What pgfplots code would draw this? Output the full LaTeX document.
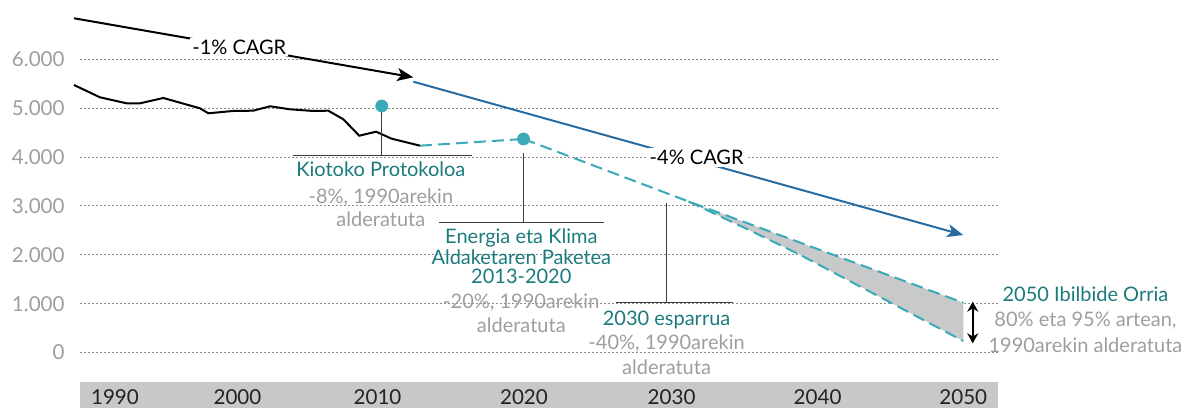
\documentclass[border=0pt]{standalone}
\usepackage{pgfplots}
\pgfplotsset{compat=1.18}
\usepackage{fontspec}
\setmainfont{Lato}
\usetikzlibrary{arrows.meta}
\definecolor{tealtxt}{RGB}{27,122,124}
\definecolor{tealln}{RGB}{58,170,185}
\definecolor{bluecagr}{RGB}{38,108,163}
\definecolor{graytxt}{RGB}{158,158,158}
\definecolor{bandgray}{RGB}{199,200,201}
\definecolor{fillgray}{RGB}{200,201,202}
\definecolor{gridgray}{RGB}{140,140,140}
\definecolor{stemcol}{RGB}{60,60,60}
\definecolor{yearcol}{RGB}{34,34,34}
\newcommand{\lf}{\fontsize{10}{12}\selectfont}
\newcommand{\yf}{\fontsize{10.3}{12}\selectfont}
\begin{document}
\begin{tikzpicture}
\begin{axis}[
  at={(40pt,0pt)}, anchor=south west,
  scale only axis, width=459pt, height=204pt,
  xmin=1989.623, xmax=2052.5, ymin=-1136, ymax=7213,
  clip=false,
  axis line style={draw=none},
  major tick style={draw=none},
  xtick=\empty,
  ytick={0,1000,2000,3000,4000,5000,6000},
  ymajorgrids,
  grid style={gridgray, line width=0.5pt, dash pattern=on 1pt off 1pt},
  yticklabel style={font=\fontsize{10.3}{12}\selectfont, text=graytxt, anchor=east, inner sep=0pt, xshift=-7.5pt},
  /pgf/number format/1000 sep={.},
  /pgf/number format/assume math mode=true,
  every node/.append style={font=\lf},
]
% year band
\fill[bandgray] (axis cs:1989.623,-1136) rectangle (axis cs:2052.5,-597);

% historical emissions
\addplot[black, line width=1pt] coordinates {
(1989.21,5474) (1990.99,5222) (1992.82,5099) (1993.73,5099) (1995.33,5208)
(1997.84,4997) (1998.41,4895) (2000.12,4942) (2001.49,4948) (2002.64,5038)
(2004.01,4976) (2005.60,4942) (2006.63,4948) (2007.66,4772) (2008.75,4436)
(2009.90,4518) (2010.97,4375) (2012.91,4232)};

% 2050 corridor fill
\addplot[fill=fillgray, draw=none] coordinates {
(2031.3,3090) (2050.12,1019) (2050.12,235) (2039,1990) (2035.5,2500)} -- cycle;

% dashed targets path
\addplot[tealln, line width=1pt, dash pattern=on 6pt off 3pt] coordinates {(2012.91,4232) (2020,4369)};
\addplot[tealln, line width=1pt, dash pattern=on 6pt off 3pt] coordinates {(2020,4369) (2031.3,3090) (2050.12,1019)};
\addplot[tealln, line width=1pt, dash pattern=on 6pt off 3pt] coordinates {(2031.3,3090) (2035.5,2500) (2039,1990) (2050.12,235)};

% annotation stems
\addplot[stemcol, line width=0.6pt] coordinates {(2010.29,5044) (2010.29,4035)};
\addplot[stemcol, line width=0.6pt] coordinates {(2004.19,4035) (2016.45,4035)};
\addplot[stemcol, line width=0.6pt] coordinates {(2020,4076) (2020,2664)};
\addplot[stemcol, line width=0.6pt] coordinates {(2014.21,2664) (2025.51,2664)};
\addplot[stemcol, line width=0.6pt] coordinates {(2029.81,3053) (2029.81,1019)};
\addplot[stemcol, line width=0.6pt] coordinates {(2026.34,1019) (2034.33,1019)};

% target dots
\addplot[only marks, mark=*, mark size=3pt, color=tealln] coordinates {(2010.29,5044) (2020,4369)};

% CAGR arrows
\addplot[black, line width=1pt, -{Stealth[length=8pt,width=6.5pt,inset=2pt]}] coordinates {(1989.21,6839) (2012.45,5631)};
\addplot[bluecagr, line width=1pt, -{Stealth[length=8pt,width=6.5pt,inset=2pt]}] coordinates {(2012.45,5541) (2050.12,2404)};
\addplot[black, line width=1pt, {Stealth[length=5pt,width=5.5pt]}-{Stealth[length=5pt,width=5.5pt]}] coordinates {(2050.77,1040) (2050.77,188)};

% CAGR labels
\node[fill=white, inner sep=1pt, anchor=base] at (axis cs:2000.53,6102) {-1\% CAGR};
\node[fill=white, inner sep=1pt, anchor=base] at (axis cs:2031.86,3837) {-4\% CAGR};

% Kyoto
\node[anchor=base, text=tealtxt] at (axis cs:2010.23,3597) {Kiotoko Protokoloa};
\node[anchor=base, text=graytxt] at (axis cs:2010.23,3059) {-8\%, 1990arekin};
\node[anchor=base, text=graytxt] at (axis cs:2010.23,2568) {alderatuta};

% Energy package
\node[anchor=base, text=tealtxt] at (axis cs:2019.85,2234) {Energia eta Klima};
\node[anchor=base, text=tealtxt] at (axis cs:2019.85,1805) {Aldaketaren Paketea};
\node[anchor=base, text=tealtxt] at (axis cs:2019.85,1402) {2013-2020};
\node[anchor=base, text=graytxt] at (axis cs:2019.85,904) {-20\%, 1990arekin};
\node[anchor=base, text=graytxt] at (axis cs:2019.85,413) {alderatuta};

% 2030 framework
\node[anchor=base, text=tealtxt] at (axis cs:2029.8,548) {2030 esparrua};
\node[anchor=base, text=graytxt] at (axis cs:2029.8,51) {-40\%, 1990arekin};
\node[anchor=base, text=graytxt] at (axis cs:2029.8,-446) {alderatuta};

% 2050 roadmap
\node[anchor=base, text=tealtxt] at (axis cs:2058.49,1040) {2050 Ibilbide Orria};
\node[anchor=base, text=graytxt] at (axis cs:2058.49,528) {80\% eta 95\% artean,};
\node[anchor=base, text=graytxt] at (axis cs:2058.49,-4) {1990arekin alderatuta};

% year labels
\node[anchor=base, text=yearcol, font=\yf, inner sep=0pt] at (axis cs:1992.02,-1060) {1990};
\node[anchor=base, text=yearcol, font=\yf, inner sep=0pt] at (axis cs:2000.41,-1060) {2000};
\node[anchor=base, text=yearcol, font=\yf, inner sep=0pt] at (axis cs:2010,-1060) {2010};
\node[anchor=base, text=yearcol, font=\yf, inner sep=0pt] at (axis cs:2020.03,-1060) {2020};
\node[anchor=base, text=yearcol, font=\yf, inner sep=0pt] at (axis cs:2030.14,-1060) {2030};
\node[anchor=base, text=yearcol, font=\yf, inner sep=0pt] at (axis cs:2040.14,-1060) {2040};
\node[anchor=base, text=yearcol, font=\yf, inner sep=0pt] at (axis cs:2050.12,-1060) {2050};
\end{axis}
\pgfresetboundingbox
\path[use as bounding box] (0,0) rectangle (596pt,204pt);
\end{tikzpicture}
\end{document}
